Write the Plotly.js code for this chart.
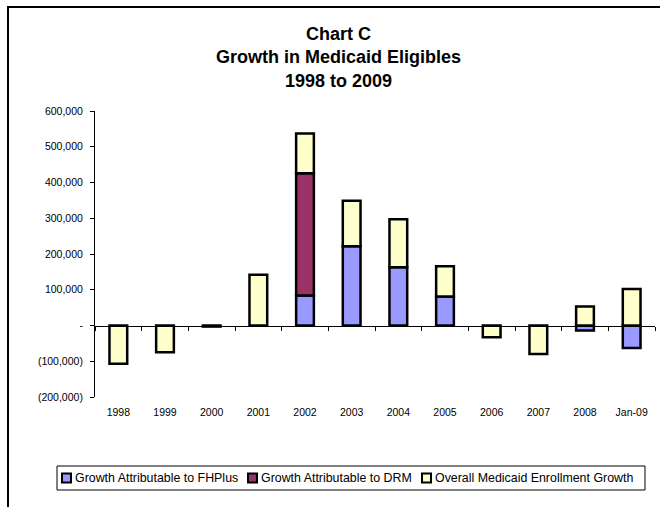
<!DOCTYPE html>
<html>
<head>
<meta charset="utf-8">
<script src="https://cdn.plot.ly/plotly-3.0.1.min.js"></script>
<style>
html,body{margin:0;padding:0;background:#fff;overflow:hidden;}
#wrap{position:relative;width:660px;height:507px;}
#chart{width:660px;height:507px;}
#frame{position:absolute;left:7px;top:6px;width:700px;height:600px;border-left:2px solid #000;border-top:2px solid #000;pointer-events:none;}
</style>
</head>
<body>
<div id="wrap"><div id="chart"></div><div id="frame"></div></div>
<script>
// ---- data ----
const categories = ['1998','1999','2000','2001','2002','2003','2004','2005','2006','2007','2008','Jan-09'];
const fhplus  = [null, null, null, null, 84000, 222000, 163000, 81000, null, null, -14000, -63000];
const drm     = [null, null, null, null, 342000, null, null, null, null, null, null, null];
const overall = [-107000, -75000, -3000, 142000, 111000, 127000, 134000, 85000, -33000, -80000, 53000, 102000];
const seriesNames = ['Growth Attributable to FHPlus', 'Growth Attributable to DRM', 'Overall Medicaid Enrollment Growth'];
const yTickVals = [-200000, -100000, 0, 100000, 200000, 300000, 400000, 500000, 600000];
const yTickText = ['(200,000)', '(100,000)', '-', '100,000', '200,000', '300,000', '400,000', '500,000', '600,000'];

// ---- styles ----
const colors = ['#9999FF', '#993366', '#FFFFCC'];
const W = 660, H = 507, M = {l: 95, r: 5, t: 111, b: 110};
const PW = W - M.l - M.r, PH = H - M.t - M.b;
const px2x = p => (p - M.l) / PW;
const px2y = p => (H - M.b - p) / PH;
const font = 'Arial, "Liberation Sans", sans-serif';

const seriesVals = [fhplus, drm, overall];
const traces = seriesVals.map((vals, i) => ({
  type: 'bar', x: categories, y: vals, name: seriesNames[i],
  width: 0.38,
  marker: {color: colors[i], line: {color: '#000', width: 2.5}},
  showlegend: false, hoverinfo: 'x+y+name'
}));
// invisible helper trace so the zero-crossing category axis is drawn
traces.push({type: 'scatter', x: categories, y: overall, mode: 'none', xaxis: 'x2', yaxis: 'y', showlegend: false, hoverinfo: 'skip'});

// custom legend (Excel-like)
const legItemLeft = [62, 248, 422];
const legTextLeft = [73, 259, 433];
const legY = 478;
const shapes = [
  {type: 'rect', xref: 'paper', yref: 'paper', x0: px2x(57), x1: px2x(645), y0: px2y(466), y1: px2y(490), line: {color: '#000', width: 1}, fillcolor: 'rgba(0,0,0,0)'}
];
const annotations = [];
seriesNames.forEach((n, i) => {
  shapes.push({type: 'rect', xref: 'paper', yref: 'paper', x0: px2x(legItemLeft[i]), x1: px2x(legItemLeft[i] + 9), y0: px2y(legY - 4.5), y1: px2y(legY + 4.5), line: {color: '#000', width: 2}, fillcolor: colors[i]});
  annotations.push({xref: 'paper', yref: 'paper', x: px2x(legTextLeft[i]), y: px2y(legY), xanchor: 'left', yanchor: 'middle', text: n, showarrow: false, font: {family: font, size: 12.4, color: '#000'}});
});

const layout = {
  width: W, height: H, margin: M,
  paper_bgcolor: '#fff', plot_bgcolor: '#fff',
  barmode: 'relative',
  title: {text: '<b>Chart C<br>Growth in Medicaid Eligibles<br>1998 to 2009</b>', font: {family: font, size: 18, color: '#000'}, xref: 'container', x: 0.513, xanchor: 'center', yref: 'container', y: 1 - 40 / H, yanchor: 'top'},
  xaxis: {type: 'category', range: [-0.5, 11.5], showline: false, ticks: '', showgrid: false, zeroline: false, ticklabelstandoff: 7, tickfont: {family: font, size: 10.5, color: '#000'}},
  xaxis2: {type: 'category', range: [-0.5, 11.5], overlaying: 'x', anchor: 'free', position: 0.25, side: 'bottom', showline: true, linecolor: '#000', linewidth: 1, ticks: 'outside', tickson: 'boundaries', ticklen: 4, tickcolor: '#000', showticklabels: false, showgrid: false, zeroline: false},
  yaxis: {range: [-200000, 600000], tickvals: yTickVals, ticktext: yTickText, showline: true, linecolor: '#000', linewidth: 1, ticks: 'outside', ticklen: 4, tickcolor: '#000', showgrid: false, zeroline: false, ticklabelstandoff: 5, tickfont: {family: font, size: 10.5, color: '#000'}},
  shapes: shapes, annotations: annotations,
  showlegend: false
};
Plotly.newPlot('chart', traces, layout, {displayModeBar: false, staticPlot: true});
</script>
</body>
</html>
